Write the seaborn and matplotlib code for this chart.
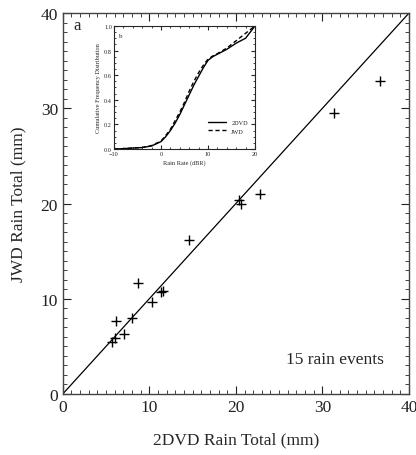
import matplotlib
matplotlib.use("Agg")
import matplotlib.pyplot as plt
import seaborn as sns
import pandas as pd
from matplotlib.ticker import MultipleLocator

# rain totals per event (mm)
dvd_total = [5.7, 6.0, 6.2, 7.1, 8.0, 8.7, 10.35, 11.4, 11.6, 14.6, 20.4, 20.6, 22.8, 31.3, 36.6]
jwd_total = [5.4, 5.9, 7.7, 6.3, 8.0, 11.7, 9.7, 10.75, 10.8, 16.2, 20.4, 20.0, 21.0, 29.5, 32.9]

# cumulative frequency distribution of rain rate (dBR)
rate_dbr = [-10, -8, -6, -4, -2, 0, 1, 2, 3, 4, 5, 6, 7, 8, 9, 10, 11, 12, 14, 16, 18, 20]
cdf_2dvd = [0, 0.003, 0.008, 0.012, 0.025, 0.06, 0.10, 0.15, 0.21, 0.28, 0.36, 0.44,
            0.52, 0.59, 0.66, 0.72, 0.75, 0.77, 0.81, 0.86, 0.90, 1.0]
cdf_jwd = [0, 0.003, 0.008, 0.013, 0.028, 0.065, 0.11, 0.16, 0.23, 0.30, 0.38, 0.47,
           0.55, 0.62, 0.68, 0.73, 0.755, 0.775, 0.82, 0.88, 0.94, 1.0]

sns.set_style("ticks")
plt.rcParams['font.family'] = ['Liberation Serif', 'DejaVu Serif']

pts = pd.DataFrame({"dvd": dvd_total, "jwd": jwd_total})
cdf = pd.DataFrame({"rate": rate_dbr * 2,
                    "cdf": cdf_2dvd + cdf_jwd,
                    "src": ["2DVD"] * len(rate_dbr) + ["JWD"] * len(rate_dbr)})

fig = plt.figure(figsize=(4.16, 4.56), dpi=100)
ax = fig.add_axes([0.151, 0.134, 0.832, 0.835])

ax.plot([0, 40], [0, 40], color="black", lw=0.9)
sns.scatterplot(data=pts, x="dvd", y="jwd", marker="+", s=55, color="black",
                linewidth=1.0, ax=ax)
ax.set_xlim(0, 40)
ax.set_ylim(0, 40)
ax.xaxis.set_major_locator(MultipleLocator(10))
ax.yaxis.set_major_locator(MultipleLocator(10))
ax.xaxis.set_minor_locator(MultipleLocator(1))
ax.yaxis.set_minor_locator(MultipleLocator(1))
ax.tick_params(which="both", direction="in", top=True, right=True, labelsize=12.5, colors="#222222")
ax.tick_params(which="major", length=6)
ax.tick_params(which="minor", length=3)
ax.set_xlabel("2DVD Rain Total (mm)", fontsize=12.5, labelpad=12)
ax.set_ylabel("JWD Rain Total (mm)", fontsize=12.5, labelpad=10)
for s in ax.spines.values():
    s.set_color("#444444")
    s.set_linewidth(1.0)
ax.text(1.2, 38.3, "a", fontsize=12)
ax.text(25.8, 3.2, "15 rain events", fontsize=12.5)

# inset
ins = fig.add_axes([0.274, 0.671, 0.339, 0.270])
sns.lineplot(data=cdf, x="rate", y="cdf", style="src", color="black", lw=1.0,
             dashes={"2DVD": "", "JWD": (3, 2)}, ax=ins)
ins.set_xlim(-10, 20)
ins.set_ylim(0, 1.0)
ins.xaxis.set_major_locator(MultipleLocator(10))
ins.yaxis.set_major_locator(MultipleLocator(0.2))
ins.xaxis.set_minor_locator(MultipleLocator(2))
ins.yaxis.set_minor_locator(MultipleLocator(0.05))
ins.yaxis.set_major_formatter(matplotlib.ticker.FormatStrFormatter("%.1f"))
ins.tick_params(which="both", direction="in", top=True, right=True, labelsize=4.5, pad=1.5)
ins.tick_params(which="major", length=3)
ins.tick_params(which="minor", length=1.5)
ins.set_xlabel("Rain Rate (dBR)", fontsize=4.5, labelpad=2)
ins.set_ylabel("Cumulative Frequency Distribution", fontsize=4.5, labelpad=2)
ins.text(-9, 0.91, "b", fontsize=5)
for s in ins.spines.values():
    s.set_linewidth(0.8)
leg = ins.legend(title=None, fontsize=4.5, frameon=False, loc="lower right",
                 bbox_to_anchor=(0.99, 0.08), handlelength=3)

fig.savefig("out.png", dpi=100)
plt.close()
